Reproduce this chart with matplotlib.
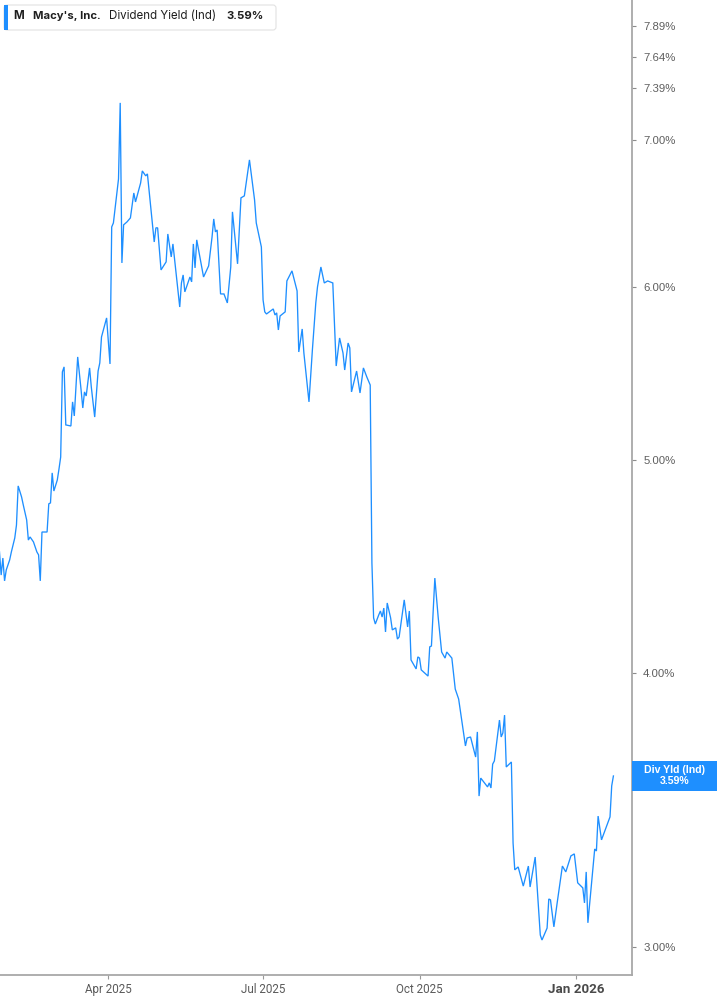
import matplotlib
matplotlib.use("Agg")
import matplotlib.pyplot as plt
import matplotlib.dates as mdates
from matplotlib.ticker import FixedLocator, FuncFormatter, NullLocator
from matplotlib.patches import Rectangle, FancyBboxPatch
from matplotlib.transforms import IdentityTransform
import pandas as pd
from datetime import datetime

# ---------------- data ----------------
dates = [
    "2025-01-27", "2025-01-28", "2025-01-29", "2025-01-30", "2025-01-31", "2025-02-02", "2025-02-03", "2025-02-05",
    "2025-02-06", "2025-02-07", "2025-02-09", "2025-02-10", "2025-02-12", "2025-02-13", "2025-02-14", "2025-02-16",
    "2025-02-18", "2025-02-19", "2025-02-20", "2025-02-21", "2025-02-24", "2025-02-25", "2025-02-26", "2025-02-27",
    "2025-02-28", "2025-03-02", "2025-03-03", "2025-03-04", "2025-03-05", "2025-03-06", "2025-03-07", "2025-03-10",
    "2025-03-11", "2025-03-12", "2025-03-14", "2025-03-16", "2025-03-17", "2025-03-18", "2025-03-19", "2025-03-21",
    "2025-03-22", "2025-03-24", "2025-03-26", "2025-03-27", "2025-03-28", "2025-03-31", "2025-04-02", "2025-04-03",
    "2025-04-04", "2025-04-07", "2025-04-08", "2025-04-09", "2025-04-10", "2025-04-12", "2025-04-14", "2025-04-16",
    "2025-04-17", "2025-04-20", "2025-04-21", "2025-04-23", "2025-04-24", "2025-04-26", "2025-04-28", "2025-04-29",
    "2025-04-30", "2025-05-02", "2025-05-05", "2025-05-06", "2025-05-08", "2025-05-09", "2025-05-13", "2025-05-14",
    "2025-05-15", "2025-05-16", "2025-05-19", "2025-05-20", "2025-05-21", "2025-05-22", "2025-05-23", "2025-05-27",
    "2025-05-30", "2025-06-01", "2025-06-02", "2025-06-03", "2025-06-04", "2025-06-06", "2025-06-08", "2025-06-10",
    "2025-06-12", "2025-06-13", "2025-06-16", "2025-06-18", "2025-06-20", "2025-06-23", "2025-06-26", "2025-06-27",
    "2025-06-30", "2025-07-01", "2025-07-02", "2025-07-03", "2025-07-07", "2025-07-08", "2025-07-09", "2025-07-10",
    "2025-07-11", "2025-07-14", "2025-07-15", "2025-07-18", "2025-07-21", "2025-07-22", "2025-07-24", "2025-07-25",
    "2025-07-28", "2025-07-30", "2025-08-01", "2025-08-02", "2025-08-04", "2025-08-06", "2025-08-08", "2025-08-11",
    "2025-08-13", "2025-08-15", "2025-08-17", "2025-08-18", "2025-08-20", "2025-08-21", "2025-08-22", "2025-08-25",
    "2025-08-27", "2025-08-29", "2025-08-31", "2025-09-02", "2025-09-03", "2025-09-04", "2025-09-05", "2025-09-07",
    "2025-09-08", "2025-09-09", "2025-09-10", "2025-09-11", "2025-09-12", "2025-09-14", "2025-09-15", "2025-09-17",
    "2025-09-18", "2025-09-19", "2025-09-22", "2025-09-24", "2025-09-25", "2025-09-26", "2025-09-29", "2025-09-30",
    "2025-10-01", "2025-10-02", "2025-10-06", "2025-10-07", "2025-10-08", "2025-10-10", "2025-10-12", "2025-10-14",
    "2025-10-16", "2025-10-17", "2025-10-20", "2025-10-22", "2025-10-24", "2025-10-28", "2025-10-29", "2025-10-31",
    "2025-11-03", "2025-11-04", "2025-11-05", "2025-11-06", "2025-11-10", "2025-11-11", "2025-11-12", "2025-11-13",
    "2025-11-14", "2025-11-17", "2025-11-18", "2025-11-19", "2025-11-20", "2025-11-21", "2025-11-24", "2025-11-25",
    "2025-11-26", "2025-11-28", "2025-12-01", "2025-12-04", "2025-12-05", "2025-12-08", "2025-12-11", "2025-12-12",
    "2025-12-15", "2025-12-16", "2025-12-17", "2025-12-19", "2025-12-21", "2025-12-24", "2025-12-26", "2025-12-29",
    "2025-12-31", "2026-01-02", "2026-01-05", "2026-01-06", "2026-01-07", "2026-01-08", "2026-01-12", "2026-01-13",
    "2026-01-14", "2026-01-16", "2026-01-21", "2026-01-22", "2026-01-23",
]

yields = [
    4.543, 4.433, 4.513, 4.406, 4.457, 4.504, 4.542, 4.609,
    4.672, 4.868, 4.812, 4.772, 4.697, 4.599, 4.614, 4.590,
    4.542, 4.528, 4.406, 4.638, 4.638, 4.777, 4.782, 4.935,
    4.842, 4.898, 4.955, 5.018, 5.487, 5.516, 5.190, 5.184,
    5.317, 5.239, 5.574, 5.384, 5.283, 5.373, 5.350, 5.510,
    5.401, 5.233, 5.492, 5.539, 5.692, 5.807, 5.533, 6.389,
    6.416, 6.719, 7.278, 6.152, 6.403, 6.423, 6.450, 6.621,
    6.559, 6.691, 6.776, 6.741, 6.755, 6.518, 6.289, 6.383,
    6.383, 6.107, 6.159, 6.342, 6.191, 6.276, 5.874, 6.024,
    6.075, 5.968, 6.062, 6.031, 6.276, 6.120, 6.303, 6.062,
    6.133, 6.322, 6.443, 6.356, 6.369, 5.955, 5.955, 5.899,
    6.126, 6.491, 6.146, 6.587, 6.601, 6.855, 6.573, 6.416,
    6.256, 5.918, 5.844, 5.831, 5.862, 5.825, 5.838, 5.734,
    5.819, 5.844, 6.037, 6.101, 5.974, 5.603, 5.740, 5.597,
    5.317, 5.615, 5.899, 5.999, 6.126, 6.024, 6.037, 6.024,
    5.521, 5.686, 5.597, 5.498, 5.656, 5.627, 5.373, 5.492,
    5.367, 5.510, 5.458, 5.412, 4.490, 4.238, 4.211, 4.251,
    4.269, 4.242, 4.282, 4.176, 4.305, 4.238, 4.185, 4.194,
    4.145, 4.154, 4.319, 4.198, 4.269, 4.055, 4.017, 4.068,
    4.063, 4.013, 3.987, 4.111, 4.115, 4.419, 4.238, 4.089,
    4.063, 4.089, 4.063, 3.933, 3.892, 3.705, 3.736, 3.740,
    3.662, 3.760, 3.515, 3.582, 3.549, 3.564, 3.545, 3.635,
    3.647, 3.807, 3.740, 3.756, 3.827, 3.624, 3.643, 3.346,
    3.253, 3.263, 3.198, 3.266, 3.195, 3.297, 3.038, 3.022,
    3.060, 3.155, 3.152, 3.064, 3.145, 3.266, 3.246, 3.301,
    3.308, 3.209, 3.192, 3.142, 3.246, 3.077, 3.325, 3.318,
    3.442, 3.357, 3.439, 3.553, 3.590,
]

y_ticks = [3.00, 4.00, 5.00, 6.00, 7.00, 7.39, 7.64, 7.89]
x_tick_dates = ["2025-04-01", "2025-07-01", "2025-10-01", "2026-01-01"]
x_tick_labels = ["Apr 2025", "Jul 2025", "Oct 2025", "Jan 2026"]

ticker_symbol = "M"
company_name = "Macy's, Inc."
metric_name = "Dividend Yield (Ind)"
last_tag_label = "Div Yld (Ind)"

# ---------------- style ----------------
BLUE = "#1e8fff"
W, H = 717, 1005

fig = plt.figure(figsize=(W / 100, H / 100), dpi=100)
fig.patch.set_facecolor("white")
ax = fig.add_axes([0, 30 / H, 632 / W, 1 - 30 / H])
ax.set_facecolor("white")

x = pd.to_datetime(dates)
ax.plot(x, yields, color=BLUE, lw=0.95, solid_joinstyle="miter")

ax.set_yscale("log")
ax.set_ylim(2.913, 8.108)
ax.set_xlim(datetime(2025, 1, 27, 7, 40), datetime(2026, 2, 2, 22, 20))

ax.yaxis.tick_right()
ax.yaxis.set_major_locator(FixedLocator(y_ticks))
ax.yaxis.set_minor_locator(NullLocator())
ax.yaxis.set_major_formatter(FuncFormatter(lambda v, p: f"{v:.2f}%"))
ax.tick_params(axis="y", which="major", length=3, width=0.8, color="#8c8c8c",
               pad=5, labelsize=8.2, labelcolor="#5f5f5f")
for lab in ax.get_yticklabels():
    lab.set_fontfamily("Liberation Sans")

ax.set_xticks(pd.to_datetime(x_tick_dates))
ax.set_xticklabels(x_tick_labels)
ax.xaxis.set_minor_locator(NullLocator())
ax.tick_params(axis="x", which="major", length=3, width=0.8, color="#999999",
               pad=3, labelsize=8.4, labelcolor="#5a5a5a")
for lab in ax.get_xticklabels():
    lab.set_fontfamily("Roboto")
xl = ax.get_xticklabels()
xl[-1].set_fontweight("bold")
xl[-1].set_fontsize(9.6)
xl[-1].set_color("#4a4a4a")

for s in ("left", "top"):
    ax.spines[s].set_visible(False)
for s in ("right", "bottom"):
    ax.spines[s].set_color("#a8a8a8")
    ax.spines[s].set_linewidth(1.3)

# ---------------- last value tag ----------------
last_x = mdates.date2num(x[-1])
yd = ax.transData.transform((last_x, yields[-1]))[1]
fig.add_artist(Rectangle((632, yd - 15), W - 632, 30, transform=IdentityTransform(),
                         facecolor=BLUE, edgecolor="none"))
fig.text(674.5, yd + 5.5, last_tag_label, transform=IdentityTransform(), ha="center", va="center",
         color="white", fontsize=7.6, fontweight="bold", family="Liberation Sans")
fig.text(674.5, yd - 5.5, f"{yields[-1]:.2f}%", transform=IdentityTransform(), ha="center", va="center",
         color="white", fontsize=7.6, fontweight="bold", family="Liberation Sans")

# ---------------- legend box ----------------
fig.add_artist(FancyBboxPatch((4, H - 30), 272, 25, boxstyle="round,pad=0,rounding_size=3",
                              transform=IdentityTransform(), facecolor="white",
                              edgecolor="#e2e2e2", linewidth=0.8))
fig.add_artist(Rectangle((4, H - 30), 3.5, 25, transform=IdentityTransform(),
                         facecolor=BLUE, edgecolor="none"))
ty = H - 16
fig.text(13, ty, ticker_symbol, transform=IdentityTransform(), va="center", ha="left",
         fontsize=8.3, fontweight="bold", color="#1f1f1f", family="Inter")
fig.text(33, ty, company_name, transform=IdentityTransform(), va="center", ha="left",
         fontsize=8.1, fontweight="bold", color="#1f1f1f", family="Inter")
fig.text(109, ty, metric_name, transform=IdentityTransform(), va="center", ha="left",
         fontsize=8.3, color="#1f1f1f", family="Inter")
fig.text(226, ty, f"{yields[-1]:.2f}%", transform=IdentityTransform(), va="center", ha="left",
         fontsize=8.2, fontweight="bold", color="#1f1f1f", family="Inter")

fig.savefig("out.png", dpi=100, facecolor="white")
